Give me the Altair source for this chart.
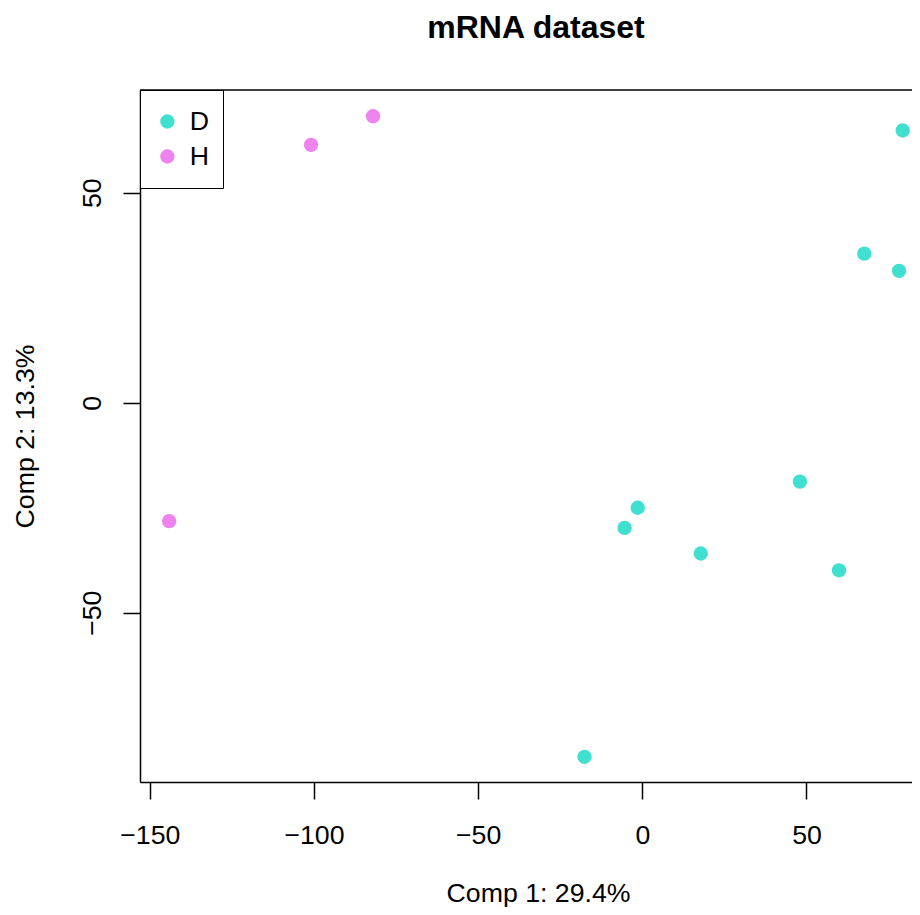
import altair as alt
import pandas as pd

# Data
group = ["H", "H", "H", "D", "D", "D", "D", "D", "D", "D", "D", "D"]
comp1 = [-144.1, -100.9, -82.0, 79.3, 67.6, 78.2, 48.0, -1.4, -5.4, 17.8, 59.9, -17.6]
comp2 = [-28.2, 61.4, 68.2, 64.8, 35.5, 31.4, -18.8, -25.0, -29.8, -35.9, -39.9, -84.3]
x_ticks = [-150, -100, -50, 0, 50]
y_ticks = [-50, 0, 50]
groups = ["D", "H"]
colors = ["#40E0D0", "#EE82EE"]

df = pd.DataFrame({"group": group, "comp1": comp1, "comp2": comp2})

FONT = "Liberation Sans"
W, H = 772, 692

points = alt.Chart(df).mark_circle(size=205, opacity=1).encode(
    x=alt.X("comp1:Q",
            scale=alt.Scale(domain=[-152.98, 82.14], nice=False, zero=False),
            axis=alt.Axis(values=x_ticks, title="Comp 1: 29.4%", grid=False,
                          domainColor="black", domainWidth=1.5,
                          tickColor="black", tickWidth=1.5, tickSize=17,
                          labelFontSize=26.7, labelFont=FONT, labelColor="black",
                          labelBaseline="alphabetic", labelPadding=44,
                          labelFlush=False, labelOverlap=False,
                          titleFontSize=26.7, titleFont=FONT, titleFontWeight="normal",
                          titleColor="black", titleX=398, titleY=119,
                          titleBaseline="alphabetic", titleAlign="center")),
    y=alt.Y("comp2:Q",
            scale=alt.Scale(domain=[-90.3, 74.45], nice=False, zero=False),
            axis=alt.Axis(values=y_ticks, title="Comp 2: 13.3%", grid=False,
                          domainColor="black", domainWidth=1.5,
                          tickColor="black", tickWidth=1.5, tickSize=17,
                          labelFontSize=26.7, labelFont=FONT, labelColor="black",
                          labelAngle=270, labelAlign="center",
                          labelBaseline="alphabetic", labelPadding=23,
                          labelFlush=False, labelOverlap=False,
                          titleFontSize=26.7, titleFont=FONT, titleFontWeight="normal",
                          titleColor="black", titleAngle=270, titleX=-107, titleY=346,
                          titleBaseline="alphabetic", titleAlign="center")),
    color=alt.Color("group:N",
                    scale=alt.Scale(domain=groups, range=colors),
                    legend=alt.Legend(orient="none", legendX=0, legendY=0, title=None,
                                      strokeColor="black", fillColor="white",
                                      padding=14, symbolSize=205, symbolType="circle",
                                      symbolStrokeWidth=0, symbolOpacity=1,
                                      labelFontSize=26.7, labelFont=FONT,
                                      labelColor="black", labelOffset=9,
                                      clipHeight=35, rowPadding=0)),
)

top_border = alt.Chart(alt.Data(values=[{}])).mark_rule(
    color="black", strokeWidth=1.5
).encode(x=alt.value(0), x2=alt.value(W), y=alt.value(0))

chart = alt.layer(top_border, points).properties(
    width=W, height=H,
    autosize=alt.AutoSizeParams(type="none"),
    padding={"left": 132, "top": 82, "right": 0, "bottom": 125},
    title=alt.TitleParams("mRNA dataset", fontSize=32, font=FONT, fontWeight="bold",
                          color="black", anchor="middle", dx=10, dy=-19,
                          baseline="alphabetic", frame="group", offset=0),
).configure_view(stroke=None)

chart.save("out.html", embed_options={"renderer": "svg", "actions": False})
